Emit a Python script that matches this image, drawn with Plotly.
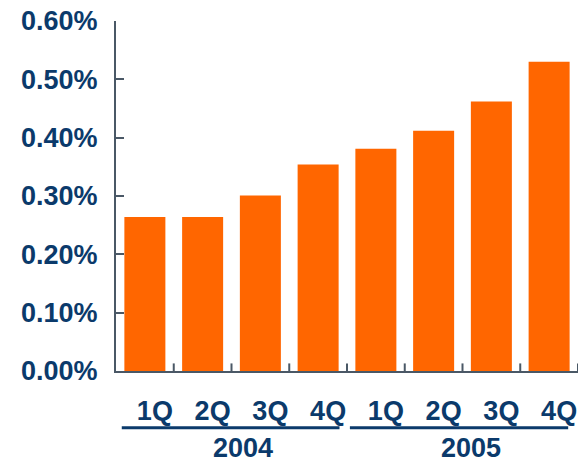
import plotly.graph_objects as go

tick_text = ["1Q", "2Q", "3Q", "4Q", "1Q", "2Q", "3Q", "4Q"]
values = [0.264, 0.264, 0.301, 0.354, 0.381, 0.412, 0.462, 0.530]
years = ["2004", "2005"]
y_ticks = [0.0, 0.1, 0.2, 0.3, 0.4, 0.5, 0.6]

navy = "#0b3a6b"
axis_col = "#4a5866"
font_family = "Liberation Sans, Arial, sans-serif"

fig = go.Figure(go.Bar(x=list(range(len(values))), y=values, marker_color="#ff6600",
                       marker_line_width=0))

fig.update_layout(
    width=584, height=463,
    margin=dict(l=116, r=6, t=19, b=92),
    plot_bgcolor="white", paper_bgcolor="white",
    bargap=0.29, showlegend=False,
    font=dict(family=font_family, color=navy),
)
fig.update_xaxes(
    range=[-0.5, 7.5], tickvals=list(range(8)), ticktext=[f"<b>{t}</b>" for t in tick_text],
    showline=True, linecolor=axis_col, linewidth=2, showgrid=False, zeroline=False,
    ticks="", tickfont=dict(size=27, color=navy), ticklabelshift=10, ticklabelstandoff=15,
)
fig.update_yaxes(
    range=[0, 0.6], tickvals=y_ticks, ticktext=[f"<b>{v:.2f}%</b>" for v in y_ticks],
    showline=True, linecolor=axis_col, linewidth=2, showgrid=False, zeroline=False,
    ticks="inside", ticklen=8, tickcolor=axis_col, tickwidth=2,
    tickfont=dict(size=27, color=navy), ticklabelstandoff=11,
)
# boundary ticks on x axis (pointing up)
for i in range(1, 9):
    fig.add_shape(type="line", xref="x", yref="y", x0=i - 0.5, x1=i - 0.5, y0=0, y1=0.013,
                  line=dict(color=axis_col, width=2))
# year group lines and labels
groups = [(-0.4, 3.37, 1.7), (3.55, 7.33, 5.65)]
for (x0, x1, xc), yr in zip(groups, years):
    fig.add_shape(type="line", xref="x", yref="paper", x0=x0, x1=x1, y0=-0.162, y1=-0.162,
                  line=dict(color=navy, width=3))
    fig.add_annotation(x=xc, y=-0.219, xref="x", yref="paper", text=f"<b>{yr}</b>",
                       showarrow=False, yanchor="middle", font=dict(size=27, color=navy))

fig.write_html("out.html")
